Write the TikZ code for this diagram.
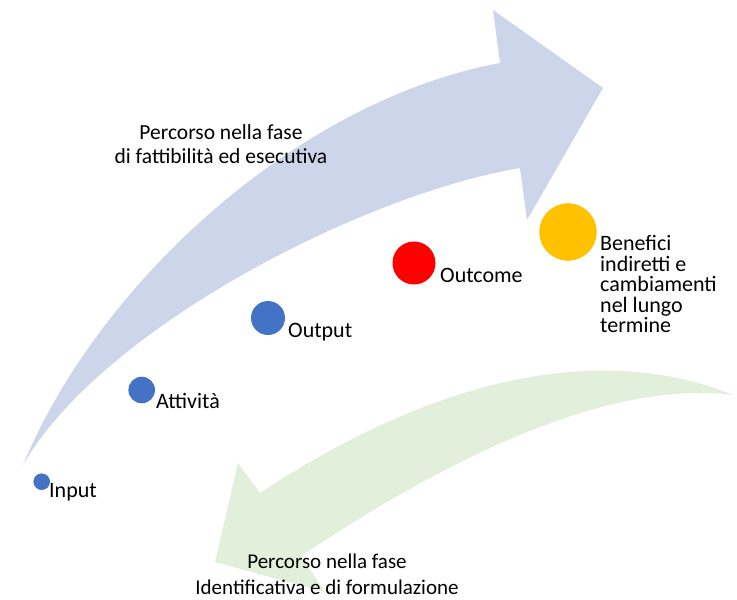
\documentclass[tikz,border=0pt]{standalone}
\usepackage{fontspec}
\setmainfont{Carlito}
\usepackage{tikz}
\usepackage{xcolor}
\definecolor{arrow_fwd}{HTML}{CDD5EA}
\definecolor{arrow_back}{HTML}{E2EFDA}
\definecolor{dot_blue}{HTML}{4472C4}
\definecolor{dot_red}{HTML}{FF0000}
\definecolor{dot_gold}{HTML}{FFC000}
\tikzset{
    phase_dot/.style={circle,inner sep=0pt,draw=none,fill=#1},
    phase_label/.style={anchor=base west,inner sep=0pt,font=\fontsize{22}{20.5}\selectfont},
    path_label/.style={anchor=base,inner sep=0pt,align=center},
}

\begin{document}
\begin{tikzpicture}[x=1pt,y=-1pt]
  \useasboundingbox (0,0) rectangle (737,600);
  % forward path
  \fill[arrow_fwd] (23,465) .. controls (100,280) and (300,100) .. (500,63)
    -- (493,10) -- (603,88) -- (527,220) -- (520,168)
    .. controls (360,195) and (100,330) .. (23,465) -- cycle;
  % backward path
  \fill[arrow_back] (733,395) .. controls (560,325) and (370,420) .. (260,493)
    -- (238,463) -- (215,562) -- (325,592) -- (301,556)
    .. controls (430,470) and (600,378) .. (733,395) -- cycle;
  % base anchor sits on the last line
  \node[path_label,font=\fontsize{21.5}{24}\selectfont] (fwd_text) at (221,163.3)
    {Percorso nella fase\\di fattibilità ed esecutiva};
  \node[path_label,font=\fontsize{21}{26}\selectfont] (back_text) at (327,594)
    {Percorso nella fase\\Identificativa e di formulazione};
  \node[phase_dot=dot_blue,minimum size=16.6pt] (input) at (41.7,481.7) {};
  \node[phase_dot=dot_blue,minimum size=26.6pt] (attivita) at (141.7,390) {};
  \node[phase_dot=dot_blue,minimum size=34pt] (output) at (268,318) {};
  \node[phase_dot=dot_red,minimum size=43pt] (outcome) at (414,263) {};
  \node[phase_dot=dot_gold,minimum size=57.4pt] (benefici) at (568,232) {};
  \node[phase_label] (input_text) at (49,497) {Input};
  \node[phase_label] (attivita_text) at (156,408) {Attività};
  \node[phase_label] (output_text) at (288,337) {Output};
  \node[phase_label] (outcome_text) at (440,282) {Outcome};
  \node[phase_label,align=left] (benefici_text) at (600,332.7)
    {Benefici\\indiretti e\\cambiamenti\\nel lungo\\termine};
\end{tikzpicture}
\end{document}
